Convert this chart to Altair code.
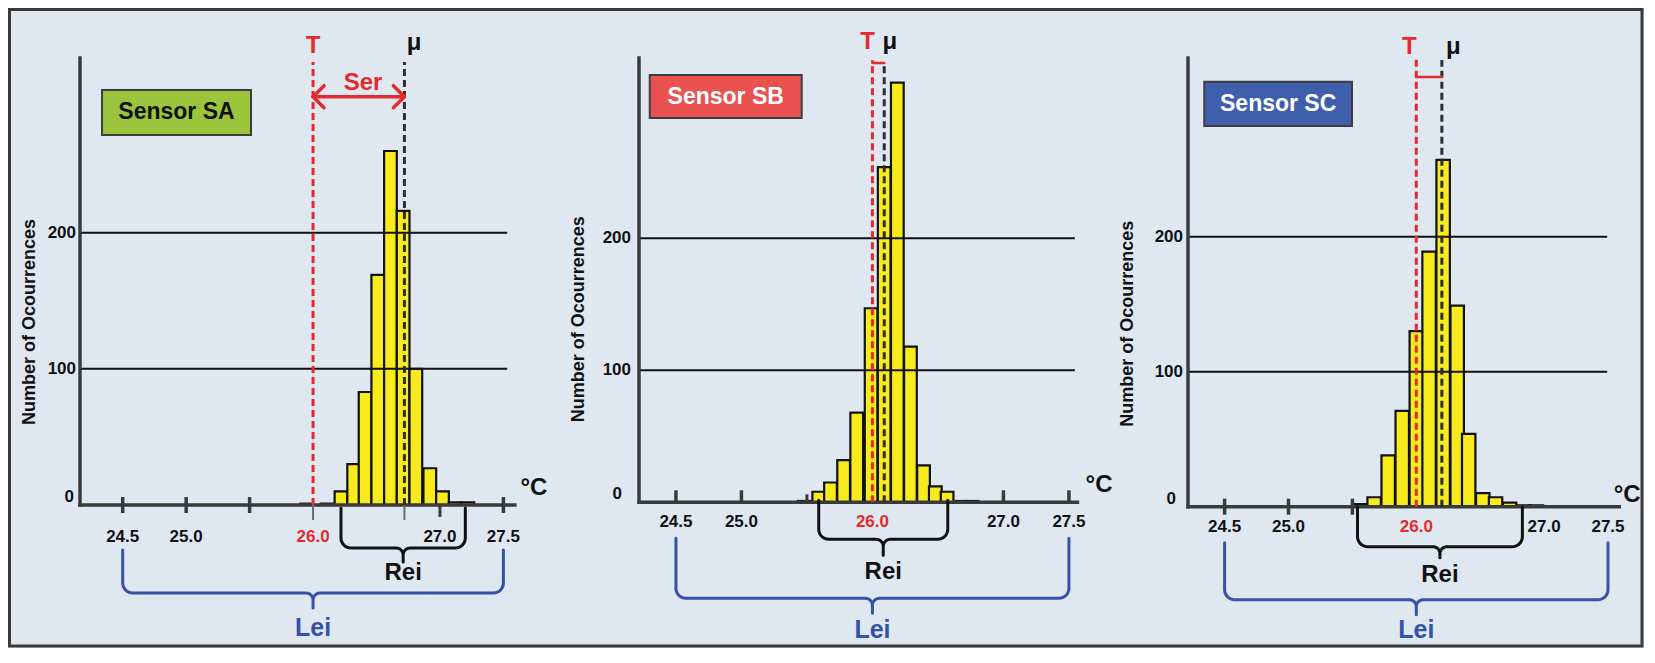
import math
import altair as alt
import pandas as pd

# counts per ~0.1 °C bin (bin centre in °C)
temp_sa = [25.95, 26.11, 26.22, 26.32, 26.41, 26.51, 26.61, 26.71, 26.81, 26.92, 27.02, 27.12, 27.22]
count_sa = [1, 1, 10, 30, 83, 169, 260, 216, 100, 27, 10, 2, 2]

temp_sb = [25.48, 25.59, 25.68, 25.78, 25.88, 25.99, 26.09, 26.19, 26.29, 26.39, 26.48, 26.57, 26.67, 26.76]
count_sb = [1, 8, 15, 32, 68, 147, 254, 318, 118, 28, 12, 8, 1, 1]

temp_sc = [25.56, 25.67, 25.78, 25.89, 26.00, 26.10, 26.21, 26.32, 26.41, 26.52, 26.62, 26.73, 26.84, 26.94]
count_sc = [2, 7, 38, 71, 130, 189, 257, 149, 54, 10, 7, 3, 1, 1]

target_temp = 26.0
mean_temp = [26.72, 26.09, 26.20]
sensor_names = ["Sensor SA", "Sensor SB", "Sensor SC"]
rei_range = [(26.22, 27.20), (25.59, 26.575), (25.54, 26.83)]
lei_range = (24.5, 27.5)
x_ticks = [24.5, 25.0, 26.0, 27.0, 27.5]
y_ticks = [0, 100, 200]
y_title = "Number of Ocourrences"

FONT = "Liberation Sans"
BG = "#dfe8f1"
INK = "#111111"
AXIS = "#3a3a3a"
RED = "#e42a2d"
BLUE = "#3552a6"
YELLOW = "#f8eb1d"

# per panel layout: kx/ky = pixels per unit, vertical offsets in px above baseline
panels = [
    dict(temps=temp_sa, counts=count_sa, kx=126.9, ky=1.3615, x0=24.1635, x1=27.6962, ytop=328.3,
         bw=0.10, axis_end=27.59, grid_end=27.53, title_x=50, label_pad=4, zero_shift=2, label_px=32,
         box=(24.337, 25.511, 370, 415), box_fill="#9cc43c", box_ink=INK,
         ticks=[(24.5, 8, -8, AXIS, 3.5), (25.0, 8, -8, AXIS, 3.5), (25.5, 8, -8, AXIS, 3.5),
                (27.5, 8, -8, AXIS, 3.5), (26.0, 0, -15, "#6b6b6b", 2),
                (26.72, 0, -15, "#6b6b6b", 2), (27.0, 0, -12, AXIS, 3)],
         t_top=443, mu_top=443, t_lab=(26.0, 459), mu_lab=(26.796, 462),
         ser="arrow", ser_y=408.3, ser_lab=(26.394, 422),
         rei_px=(3, 43, 57, 68), lei_px=(45, 88, 103, 123), degc=(27.74, 17)),
    dict(temps=temp_sb, counts=count_sb, kx=131.0, ky=1.32, x0=24.218, x1=27.5646, ytop=336.6,
         bw=0.097, axis_end=27.565, grid_end=27.545, title_x=60, label_pad=8, zero_shift=9, label_px=20,
         box=(24.30, 25.46, 384.3, 427.3), box_fill="#e9524f", box_ink="#ffffff",
         ticks=[(24.5, 12, 0, AXIS, 3.5), (25.0, 12, 0, AXIS, 3.5), (25.5, 8, 0, AXIS, 3),
                (27.0, 12, 0, AXIS, 3.5), (27.5, 12, 0, AXIS, 3.5)],
         t_top=442, mu_top=439, t_lab=(25.963, 460), mu_lab=(26.132, 460),
         ser="bar", ser_y=439.3, ser_lab=None,
         rei_px=(-2, 37, 53, 70), lei_px=(36, 96, 111, 128), degc=(27.73, 17)),
    dict(temps=temp_sc, counts=count_sc, kx=127.8, ky=1.35, x0=24.2136, x1=27.5884, ytop=332.4,
         bw=0.105, axis_end=27.588, grid_end=27.494, title_x=60, label_pad=5, zero_shift=7, label_px=20,
         box=(24.341, 25.497, 380.7, 425), box_fill="#3f5fad", box_ink="#ffffff",
         ticks=[(24.5, 8, -8, AXIS, 3.5), (25.0, 8, -8, AXIS, 3.5), (25.5, 8, -8, AXIS, 3.5)],
         t_top=448.7, mu_top=446.7, t_lab=(25.945, 460), mu_lab=(26.289, 460),
         ser="bar", ser_y=429.7, ser_lab=None,
         rei_px=(0, 40, 51, 68), lei_px=(36, 93, 108, 123), degc=(27.65, 12)),
]


def brace_points(xa, xb, top, bot, tip, kx, ky, r=10.0, r2=7.0):
    # curly brace built in pixels (y down from the baseline), then back to data units
    X0, X1 = xa * kx, xb * kx
    Xm = (X0 + X1) / 2
    pts = [(X0, top)]

    def arc(cx, cy, rad, a0, a1, n=8):
        for i in range(n + 1):
            a = a0 + (a1 - a0) * i / n
            pts.append((cx + rad * math.cos(a), cy + rad * math.sin(a)))

    arc(X0 + r, bot - r, r, math.pi, math.pi / 2)
    arc(Xm - r2, bot + r2, r2, -math.pi / 2, 0)
    pts.append((Xm, tip))
    arc(Xm + r2, bot + r2, r2, math.pi, 1.5 * math.pi)
    arc(X1 - r, bot - r, r, math.pi / 2, 0)
    pts.append((X1, top))
    return pd.DataFrame({"x": [q[0] / kx for q in pts],
                         "y": [-q[1] / ky for q in pts],
                         "o": list(range(len(pts)))})


def make_panel(i, p):
    kx, ky = p["kx"], p["ky"]
    xs = alt.Scale(domain=[p["x0"], p["x1"]], nice=False, zero=False)
    ys = alt.Scale(domain=[0, p["ytop"]], nice=False, zero=False)

    def X(f):
        return alt.X(f"{f}:Q", scale=xs, axis=None)

    def Y(f):
        return alt.Y(f"{f}:Q", scale=ys, axis=None)

    def u(px):
        return px / ky

    hist = pd.DataFrame({"temp": p["temps"], "count": p["counts"]})
    half = p["bw"] / 2
    bars = (alt.Chart(hist)
            .transform_calculate(lo=f"datum.temp - {half}", hi=f"datum.temp + {half}", base="0")
            .mark_rect(fill=YELLOW, stroke=INK, strokeWidth=2.2)
            .encode(x=X("lo"), x2="hi", y=Y("count"), y2="base"))

    grid = (alt.Chart(pd.DataFrame({"y": y_ticks[1:], "a": p["x0"], "b": p["grid_end"]}))
            .mark_rule(color=INK, strokeWidth=2)
            .encode(x=X("a"), x2="b", y=Y("y")))

    axes = (alt.Chart(pd.DataFrame({"xa": [p["x0"], p["x0"]], "xb": [p["axis_end"], p["x0"]],
                                    "ya": [0, 0], "yb": [0, p["ytop"]]}))
            .mark_rule(color=AXIS, strokeWidth=3.5, strokeCap="square")
            .encode(x=X("xa"), x2="xb", y=Y("ya"), y2="yb"))

    tk = pd.DataFrame({"x": [t[0] for t in p["ticks"]],
                       "ya": [u(t[1]) for t in p["ticks"]],
                       "yb": [u(t[2]) for t in p["ticks"]],
                       "c": [t[3] for t in p["ticks"]],
                       "w": [t[4] for t in p["ticks"]]})
    ticks = (alt.Chart(tk).mark_rule()
             .encode(x=X("x"), y=Y("ya"), y2="yb",
                     color=alt.Color("c:N", scale=None),
                     strokeWidth=alt.StrokeWidth("w:Q", scale=None)))

    gd = pd.DataFrame({"x": [target_temp, mean_temp[i]], "z": [0, 0],
                       "top": [u(p["t_top"]), u(p["mu_top"])], "c": [RED, "#2e2e2e"]})
    guides = (alt.Chart(gd).mark_rule(strokeWidth=3, strokeDash=[7, 4])
              .encode(x=X("x"), y=Y("z"), y2="top", color=alt.Color("c:N", scale=None)))

    # Ser: distance between target T and mean mu
    sy = u(p["ser_y"])
    m = mean_temp[i]
    if p["ser"] == "arrow":
        hx, hy = 11 / kx, u(11)
        segs = [(0, target_temp + hx, sy + hy), (0, target_temp, sy), (0, target_temp + hx, sy - hy),
                (1, target_temp, sy), (1, m, sy),
                (2, m - hx, sy + hy), (2, m, sy), (2, m - hx, sy - hy)]
        sw = 3.5
    else:
        segs = [(0, target_temp, sy), (0, m, sy)]
        sw = 2.5
    sd = pd.DataFrame({"g": [s[0] for s in segs], "x": [s[1] for s in segs],
                       "y": [s[2] for s in segs], "o": list(range(len(segs)))})
    ser = (alt.Chart(sd).mark_line(color=RED, strokeWidth=sw, strokeCap="round", strokeJoin="round")
           .encode(x=X("x"), y=Y("y"), detail="g:N", order="o:Q"))

    rt, rb, rtip, rtext = p["rei_px"]
    lt, lb, ltip, ltext = p["lei_px"]
    rei = (alt.Chart(brace_points(rei_range[i][0], rei_range[i][1], rt, rb, rtip, kx, ky))
           .mark_line(color=INK, strokeWidth=3, strokeCap="round", strokeJoin="round")
           .encode(x=X("x"), y=Y("y"), order="o:Q"))
    lei = (alt.Chart(brace_points(lei_range[0], lei_range[1], lt, lb, ltip, kx, ky))
           .mark_line(color=BLUE, strokeWidth=3, strokeCap="round", strokeJoin="round")
           .encode(x=X("x"), y=Y("y"), order="o:Q"))

    bx0, bx1, by0, by1 = p["box"]
    box = (alt.Chart(pd.DataFrame({"a": [bx0], "b": [bx1], "c": [u(by0)], "d": [u(by1)]}))
           .mark_rect(fill=p["box_fill"], stroke="#3d3d3d", strokeWidth=2)
           .encode(x=X("a"), x2="b", y=Y("c"), y2="d"))

    rows = []
    for v in x_ticks:
        rows.append((v, -u(p["label_px"]), f"{v:.1f}", RED if v == target_temp else INK, 17))
    rows += [
        (p["t_lab"][0], u(p["t_lab"][1]), "T", RED, 24),
        (p["mu_lab"][0], u(p["mu_lab"][1]), "μ", INK, 24),
        ((rei_range[i][0] + rei_range[i][1]) / 2, -u(rtext), "Rei", INK, 24),
        ((lei_range[0] + lei_range[1]) / 2, -u(ltext), "Lei", BLUE, 25),
        (p["degc"][0], u(p["degc"][1]), "°C", INK, 24),
        ((bx0 + bx1) / 2, u((by0 + by1) / 2), sensor_names[i], p["box_ink"], 23),
    ]
    if p["ser_lab"]:
        rows.append((p["ser_lab"][0], u(p["ser_lab"][1]), "Ser", RED, 24))
    td = pd.DataFrame(rows, columns=["x", "y", "t", "c", "s"])
    texts = (alt.Chart(td).mark_text(font=FONT, fontWeight="bold", align="center", baseline="middle")
             .encode(x=X("x"), y=Y("y"), text="t:N",
                     color=alt.Color("c:N", scale=None), size=alt.Size("s:Q", scale=None)))

    # y axis labels and rotated title, placed left of the axis line
    yl = pd.DataFrame({"v": y_ticks,
                       "x": [p["x0"] - (p["label_pad"] + (p["zero_shift"] if v == 0 else 0)) / kx
                             for v in y_ticks],
                       "y": [v + (u(8) if v == 0 else 0) for v in y_ticks],
                       "t": [str(v) for v in y_ticks]})
    ylabels = (alt.Chart(yl).mark_text(font=FONT, fontWeight="bold", fontSize=17, color=INK,
                                       align="right", baseline="middle")
               .encode(x=X("x"), y=Y("y"), text="t:N"))
    yt = pd.DataFrame({"x": [p["x0"] - p["title_x"] / kx], "y": [u(183)], "t": [y_title]})
    ytitle = (alt.Chart(yt).mark_text(font=FONT, fontWeight="bold", fontSize=18, color=INK,
                                      angle=270, align="center", baseline="middle")
              .encode(x=X("x"), y=Y("y"), text="t:N"))

    layers = [bars, grid, axes, ticks, guides, ser, rei, lei, box, texts, ylabels, ytitle]
    if i == 0:
        # outer frame of the figure, drawn in the first panel's pixel space
        frame = (alt.Chart(pd.DataFrame({"k": [0]}))
                 .mark_rect(fillOpacity=0, stroke="#3a3a3a", strokeWidth=3)
                 .encode(x=alt.value(-70.5), x2=alt.value(1562),
                         y=alt.value(-48.5), y2=alt.value(588)))
        layers.append(frame)

    return alt.layer(*layers).properties(width=round((p["x1"] - p["x0"]) * kx, 1),
                                         height=round(p["ytop"] * ky, 1))


charts = [make_panel(i, p) for i, p in enumerate(panels)]

chart = (alt.hconcat(*charts, spacing=110, bounds="flush")
         .properties(padding=0, background=BG)
         .configure_view(strokeWidth=0))

chart.save("out.html", embed_options={"renderer": "svg", "actions": False})
